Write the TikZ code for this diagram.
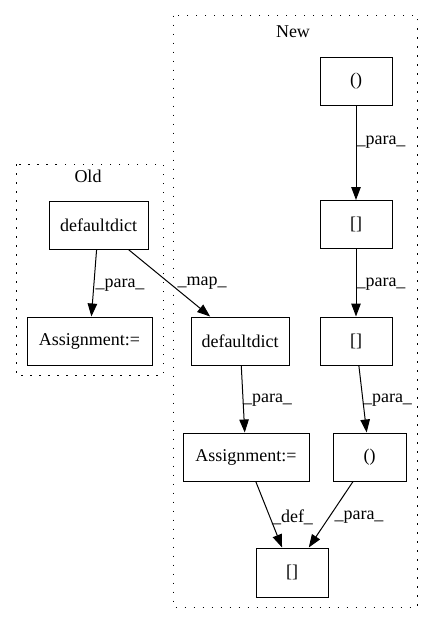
\documentclass[tikz,border=0pt]{standalone}
\usepackage{fontspec}
\setmainfont{Liberation Serif}
\usetikzlibrary{arrows.meta}
\begin{document}
\begin{tikzpicture}[x=1pt,y=-1pt,
  box/.style={draw=black, line width=1pt, rectangle, inner sep=0pt,
    minimum height=48pt, font=\fontsize{18}{21}\selectfont},
  lbl/.style={inner sep=0pt, font=\fontsize{18}{21}\selectfont},
  edge/.style={draw, line width=1pt, -{Triangle[length=13pt,width=9.5pt]}},
  cluster/.style={draw, line width=1pt, dash pattern=on 1.5pt off 7.5pt}]
\useasboundingbox (0,0) rectangle (432,624);

% clusters
\draw[cluster] (16,164) rectangle (163,375);
\node[lbl] (oldtitle) at (88,176) {Old};
\draw[cluster] (173,15.5) rectangle (417,607);
\node[lbl] (newtitle) at (293,32) {New};

% Old graph
\node[box, minimum width=99pt] (od) at (98.5,225) {defaultdict};
\node[box, minimum width=125pt] (oa) at (89.5,341) {Assignment:=};

% New graph
\node[box, minimum width=98pt] (nd) at (240,341) {defaultdict};
\node[box, minimum width=126pt] (na) at (246,457) {Assignment:=};
\node[box, minimum width=72pt] (p1) at (356,81) {()};
\node[box, minimum width=72pt] (b1) at (356,224.5) {[]};
\node[box, minimum width=72pt] (b2) at (356,341) {[]};
\node[box, minimum width=73pt] (p2) at (369.5,457) {()};
\node[box, minimum width=72pt, minimum height=49pt] (b3) at (292,572.5) {[]};

% connectors
\draw[edge] (od) -- (oa);
\draw[edge] (od) -- (nd);
\draw[edge] (nd) -- (na);
\draw[edge] (p1) -- (b1);
\draw[edge] (b1) -- (b2);
\draw[edge] (b2) -- (p2);
\draw[edge] (na) -- (b3);
\draw[edge] (p2) -- (b3);

% connector labels
\node[lbl] (l1) at (120,285) {\_para\_};
\node[lbl] (l2) at (202,283) {\_map\_};
\node[lbl] (l3) at (381,142) {\_para\_};
\node[lbl] (l4) at (381,284) {\_para\_};
\node[lbl] (l5) at (267.5,400) {\_para\_};
\node[lbl] (l6) at (387.5,400) {\_para\_};
\node[lbl] (l7) at (292.5,517) {\_def\_};
\node[lbl] (l8) at (359,517) {\_para\_};
\end{tikzpicture}
\end{document}
